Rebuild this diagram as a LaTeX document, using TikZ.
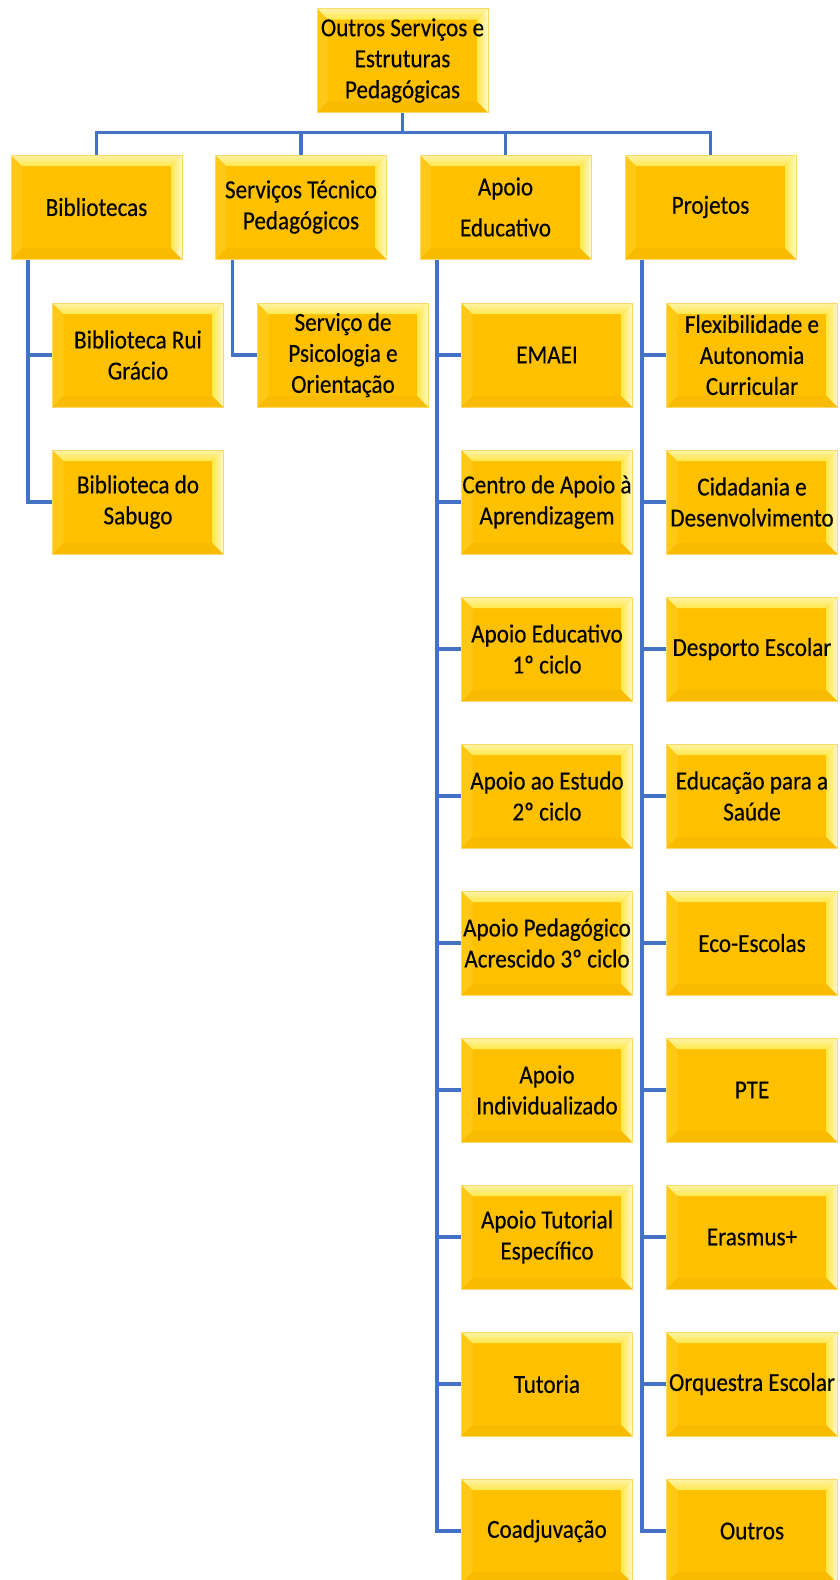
\documentclass[tikz,border=0pt]{standalone}
\usepackage{fontspec}
\setmainfont{Carlito}[FakeStretch=0.89,FakeBold=0.35]
\usetikzlibrary{backgrounds}
\definecolor{gold}{HTML}{FFC000}
\definecolor{goldedge}{HTML}{FFD966}
\definecolor{bevtop}{HTML}{FFE84A}
\definecolor{bevtoplight}{HTML}{FFF3A8}
\definecolor{bevright}{HTML}{FFF8D0}
\definecolor{bevleft}{HTML}{FFC817}
\definecolor{bevbot}{HTML}{F9BB00}
\definecolor{linkblue}{HTML}{4472C4}
\tikzset{
  bev/.style={minimum width=171pt, minimum height=104pt, inner sep=0pt, outer sep=0pt,
    align=center, font=\fontsize{26}{31}\selectfont, fill=gold, draw=goldedge, line width=0.7pt,
    path picture={
      \coordinate (ppnw) at (path picture bounding box.north west);
      \coordinate (ppne) at (path picture bounding box.north east);
      \coordinate (ppsw) at (path picture bounding box.south west);
      \coordinate (ppse) at (path picture bounding box.south east);
      \fill[bevleft] (ppnw) -- (ppsw) -- ([xshift=11pt,yshift=11pt]ppsw) -- ([xshift=11pt,yshift=-11pt]ppnw) -- cycle;
      \fill[bevbot] (ppsw) -- (ppse) -- ([xshift=-11pt,yshift=11pt]ppse) -- ([xshift=11pt,yshift=11pt]ppsw) -- cycle;
      \shade[left color=bevtop, right color=bevright] (ppne) -- (ppse) -- ([xshift=-11pt,yshift=11pt]ppse) -- ([xshift=-11pt,yshift=-11pt]ppne) -- cycle;
      \shade[top color=bevtoplight, bottom color=bevtop] (ppnw) -- (ppne) -- ([xshift=-11pt,yshift=-11pt]ppne) -- ([xshift=11pt,yshift=-11pt]ppnw) -- cycle;
    }},
  link/.style={draw=linkblue, line width=3.2pt}
}
\begin{document}
\begin{tikzpicture}[x=1pt,y=1pt]
\useasboundingbox (0,0) rectangle (839,-1580);
\clip (0,0) rectangle (839,-1580);
% top
\node[bev] (top) at (402.5,-60.5) {Outros Serviços e\\Estruturas\\Pedagógicas};
% level 1
\node[bev] (bib) at (96.5,-207) {Bibliotecas};
\node[bev] (stp) at (301,-207) {Serviços Técnico\\Pedagógicos};
\node[bev] (ae) at (505.5,-207) {Apoio\\[10pt]Educativo};
\node[bev] (proj) at (710.5,-207) {Projetos};
% Bibliotecas children
\node[bev] (b1) at (138,-355) {Biblioteca Rui\\Grácio};
\node[bev] (b2) at (138,-502) {Biblioteca do\\Sabugo};
% STP children
\node[bev] (s1) at (343,-355) {Serviço de\\Psicologia e\\Orientação};
% Apoio Educativo children
\node[bev] (a1) at (547,-355) {EMAEI};
\node[bev] (a2) at (547,-502) {Centro de Apoio à\\Aprendizagem};
\node[bev] (a3) at (547,-649) {Apoio Educativo\\1º ciclo};
\node[bev] (a4) at (547,-796) {Apoio ao Estudo\\2º ciclo};
\node[bev] (a5) at (547,-943) {Apoio Pedagógico\\Acrescido 3º ciclo};
\node[bev] (a6) at (547,-1090) {Apoio\\Individualizado};
\node[bev] (a7) at (547,-1237) {Apoio Tutorial\\Específico};
\node[bev] (a8) at (547,-1384) {Tutoria};
\node[bev] (a9) at (547,-1531) {Coadjuvação};
% Projetos children
\node[bev] (p1) at (752,-355) {Flexibilidade e\\Autonomia\\Curricular};
\node[bev] (p2) at (752,-502) {Cidadania e\\Desenvolvimento};
\node[bev] (p3) at (752,-649) {Desporto Escolar};
\node[bev] (p4) at (752,-796) {Educação para a\\Saúde};
\node[bev] (p5) at (752,-943) {Eco-Escolas};
\node[bev] (p6) at (752,-1090) {PTE};
\node[bev] (p7) at (752,-1237) {Erasmus+};
\node[bev] (p8) at (752,-1384) {Orquestra Escolar};
\node[bev] (p9) at (752,-1531) {Outros};
\begin{scope}[on background layer]
\fill[white] (0,0) rectangle (839,-1580);
\coordinate (bus) at ([yshift=-20pt]top.south);
\draw[link] (top.south) -- (bus);
\draw[link] (bus) -| (bib.north);
\draw[link] (bus) -| (stp.north);
\draw[link] (bus) -| (ae.north);
\draw[link] (bus) -| (proj.north);
\foreach \c in {b1,b2} \draw[link] ([xshift=17pt]bib.south west) |- (\c.west);
\draw[link] ([xshift=17pt]stp.south west) |- (s1.west);
\foreach \c in {a1,a2,a3,a4,a5,a6,a7,a8,a9} \draw[link] ([xshift=17pt]ae.south west) |- (\c.west);
\foreach \c in {p1,p2,p3,p4,p5,p6,p7,p8,p9} \draw[link] ([xshift=17pt]proj.south west) |- (\c.west);
\end{scope}
\end{tikzpicture}
\end{document}
